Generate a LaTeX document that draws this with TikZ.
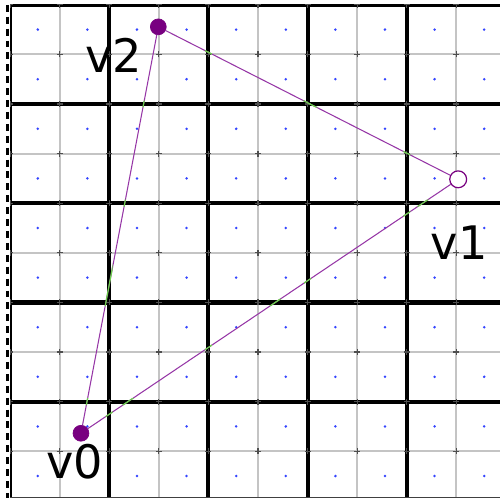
\documentclass[tikz,border=0pt]{standalone}
\usepackage{fontspec}
\setmainfont{DejaVu Sans}
\usetikzlibrary{positioning}
\definecolor{gridgray}{HTML}{C4C4C4}
\definecolor{markgray}{HTML}{4E4E4E}
\definecolor{dotblue}{HTML}{3344FF}
\definecolor{vtxpurple}{HTML}{780080}
\definecolor{sidepurple}{HTML}{9636A6}
\definecolor{crossgreen}{HTML}{6CD04C}
\tikzset{
  minorline/.style={draw=gridgray, line width=1.1pt},
  majorline/.style={draw=black, line width=2.4pt},
  gridmark/.style={draw=markgray, line width=0.7pt},
  celldot/.style={fill=dotblue},
  leftrule/.style={draw=black, line width=1.7pt, dash pattern=on 0.14cm off 0.1cm},
  baserule/.style={draw=black!75, line width=0.8pt},
  vtx/.style={circle, fill=vtxpurple, draw=vtxpurple, minimum size=3.2mm, inner sep=0pt},
  vtxopen/.style={circle, draw=vtxpurple, fill=white, line width=0.7pt,
    minimum size=3.4mm, inner sep=0pt},
  side/.style={draw=sidepurple, line width=0.6pt},
  sidecross/.style={draw=crossgreen, line width=0.7pt},
  vlab/.style={font=\fontsize{26.5}{30}\selectfont, inner sep=0pt},
}

\begin{document}
\begin{tikzpicture}
  \useasboundingbox[fill=white] (-0.2016,-1.944) rectangle (9.879,8.097);
  % grid
  \begin{scope}
    \clip (0,-1.93) rectangle (9.879,8);
    \foreach \i in {1,3,5,7,9} \draw[minorline] (\i,-1.944) -- (\i,8.1);
    \foreach \j in {-1,1,3,5,7} \draw[minorline] (-0.2,\j) -- (9.879,\j);
    \foreach \i in {0,2,4,6,8} \draw[majorline] (\i,-1.944) -- (\i,8.1);
    \foreach \j in {0,2,4,6,8} \draw[majorline] (-0.2,\j) -- (9.879,\j);
    \foreach \i in {0,...,9}
      \foreach \j in {-1,...,8} {
        \draw[gridmark] (\i-0.06,\j) -- (\i+0.06,\j);
        \draw[gridmark] (\i,\j-0.06) -- (\i,\j+0.06);
      }
  \end{scope}
  \foreach \i in {0,...,9}
    \foreach \j in {-2,...,7}
      \fill[celldot] (\i+0.56,\j+0.5) circle (0.028);
  \draw[leftrule] (-0.05,8) -- (-0.05,-1.944);
  \draw[baserule] (0,-1.93) -- (9.879,-1.93);
  % vertices
  \node[vtx] (v0) at (1.431,-0.638) {};
  \node[vtxopen] (v1) at (9.036,4.482) {};
  \node[vtx] (v2) at (2.99,7.556) {};
  \draw[side] (v0) -- (v2);
  \draw[side] (v2) -- (v1);
  \draw[side] (v1) -- (v0);
  % crossings with the major lines
  \begin{scope}
    \clip \foreach \i in {2,4,6,8} { (\i-0.07,-2) rectangle (\i+0.07,8.1) }
          \foreach \j in {0,2,4,6} { (-0.3,\j-0.07) rectangle (10,\j+0.07) };
    \draw[sidecross] (v0) -- (v2);
    \draw[sidecross] (v2) -- (v1);
    \draw[sidecross] (v1) -- (v0);
  \end{scope}
  % labels
  \node[vlab] (l0) at (1.300,-1.208) {v0};
  \node[vlab] (l1) at (9.053,3.208) {v1};
  \node[vlab] (l2) at (2.097,6.988) {v2};
\end{tikzpicture}
\end{document}
